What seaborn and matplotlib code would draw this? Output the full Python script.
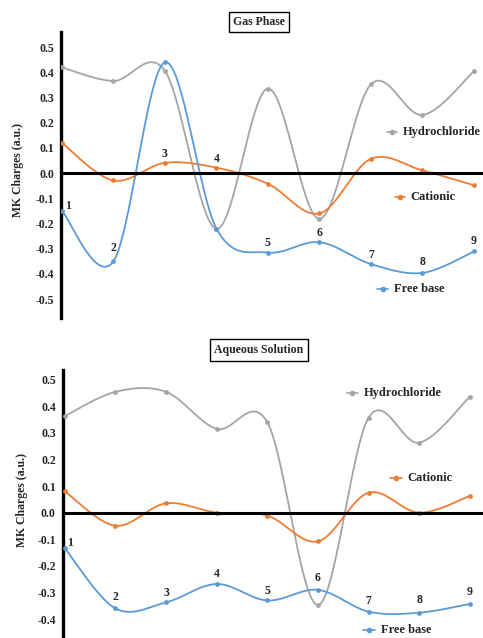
import numpy as np
import matplotlib
matplotlib.use('Agg')
import matplotlib.pyplot as plt
import seaborn as sns

# atom positions 1..9
atoms = [1, 2, 3, 4, 5, 6, 7, 8, 9]
atom_labels = ['1', '2', '3', '4', '5', '6', '7', '8', '9']

# Gas phase MK charges
gas_hydro = [0.42, 0.366, 0.406, -0.221, 0.336, -0.181, 0.353, 0.231, 0.405]
gas_cation = [0.12, -0.029, 0.041, 0.022, -0.042, -0.16, 0.057, 0.011, -0.048]
gas_free = [-0.15, -0.35, 0.44, -0.22, -0.315, -0.274, -0.361, -0.396, -0.311]
gas_label_y = [-0.131, -0.298, 0.075, 0.056, -0.278, -0.238, -0.325, -0.353, -0.270]
gas_yticks = [0.5, 0.4, 0.3, 0.2, 0.1, 0.0, -0.1, -0.2, -0.3, -0.4, -0.5]

# Aqueous solution MK charges
aq_hydro = [0.363, 0.454, 0.454, 0.315, 0.34, -0.347, 0.357, 0.263, 0.436]
aq_cation = [0.08, -0.049, 0.035, 0.0, -0.011, -0.108, 0.075, 0.0, 0.063]
aq_free = [-0.134, -0.36, -0.337, -0.268, -0.33, -0.29, -0.372, -0.376, -0.343]
aq_label_y = [-0.113, -0.318, -0.303, -0.232, -0.293, -0.247, -0.331, -0.328, -0.298]
aq_yticks = [0.5, 0.4, 0.3, 0.2, 0.1, 0.0, -0.1, -0.2, -0.3, -0.4]

GREY = '#A5A5A5'
ORANGE = '#ED7D31'
BLUE = '#5B9BD5'
FONT = 'Liberation Serif'


def smooth(xs, ys, n=40):
    # Catmull-Rom smoothing, like Excel's smoothed line
    p = np.column_stack([xs, ys]).astype(float)
    p = np.vstack([p[0], p, p[-1]])
    out = []
    t = np.linspace(0, 1, n)[:, None]
    for i in range(1, len(p) - 2):
        p0, p1, p2, p3 = p[i - 1], p[i], p[i + 1], p[i + 2]
        seg = 0.5 * ((2 * p1) + (-p0 + p2) * t + (2 * p0 - 5 * p1 + 4 * p2 - p3) * t ** 2
                     + (-p0 + 3 * p1 - 3 * p2 + p3) * t ** 3)
        out.append(seg if i == 1 else seg[1:])
    out = np.vstack(out)
    return out[:, 0], out[:, 1]


def panel(ax, series, label_y, yticks, xlim, ylim, legend_pos, label_x_shift):
    for vals, color in series:
        sx, sy = smooth(atoms, vals)
        sns.lineplot(x=sx, y=sy, ax=ax, color=color, linewidth=1.3, sort=False, estimator=None)
        sns.scatterplot(x=atoms, y=vals, ax=ax, color=color, s=12, edgecolor=color, linewidth=0, zorder=4)
    ax.axhline(0, color='black', linewidth=2.2, zorder=5)
    ax.set_xlim(*xlim)
    ax.set_ylim(*ylim)
    ax.set_xticks([])
    ax.set_yticks(yticks)
    ax.set_yticklabels([f'{v:.1f}' for v in yticks], fontfamily=FONT, fontweight='bold', fontsize=8.5)
    ax.tick_params(axis='y', length=0, pad=5)
    for s in ['top', 'right', 'bottom']:
        ax.spines[s].set_visible(False)
    ax.spines['left'].set_linewidth(2.4)
    ax.spines['left'].set_color('black')
    ax.set_ylabel('MK Charges (a.u.)', fontfamily=FONT, fontweight='bold', fontsize=8.5)
    # atom numbers
    for i, (x, y) in enumerate(zip(atoms, label_y)):
        dx = label_x_shift if i == 0 else 0
        ax.text(x + dx, y, atom_labels[i], ha='center', va='center',
                fontfamily=FONT, fontweight='bold', fontsize=8.5)
    # inline legend entries
    for (name, color), (x0, x1, ty) in zip([('Hydrochloride', GREY), ('Cationic', ORANGE), ('Free base', BLUE)],
                                           legend_pos):
        ax.plot([x0, x1], [ty, ty], color=color, linewidth=1.2, transform=ax.transAxes, clip_on=False)
        ax.plot([(x0 + x1) / 2], [ty], 'o', color=color, markersize=3, transform=ax.transAxes, clip_on=False)
        ax.text(x1 + 0.014, ty, name, transform=ax.transAxes, ha='left', va='center',
                fontfamily=FONT, fontweight='bold', fontsize=9)


sns.set_style('white')
fig = plt.figure(figsize=(4.83, 6.38), dpi=100)

ax1 = fig.add_axes([0.126, 0.5016, 0.874, 0.448])
panel(ax1, [(gas_hydro, GREY), (gas_cation, ORANGE), (gas_free, BLUE)], gas_label_y, gas_yticks,
      (0.98, 9.175), (-0.575, 0.56),
      [(0.773, 0.796, 0.650), (0.791, 0.815, 0.423), (0.749, 0.775, 0.101)], 0.12)
ax1.yaxis.set_label_coords(-0.088, 0.517)

ax2 = fig.add_axes([0.130, 0.0, 0.870, 0.42])
panel(ax2, [(aq_hydro, GREY), (aq_cation, ORANGE), (aq_free, BLUE)], aq_label_y, aq_yticks,
      (0.96, 9.26), (-0.471, 0.536),
      [(0.676, 0.702, 0.914), (0.779, 0.807, 0.597), (0.714, 0.743, 0.03)], 0.1)
ax2.yaxis.set_label_coords(-0.082, 0.515)

fig.text(0.536, 0.9655, 'Gas Phase', ha='center', va='center', fontfamily=FONT,
         fontweight='bold', fontsize=8.5,
         bbox=dict(boxstyle='square,pad=0.35', facecolor='white', edgecolor='black', linewidth=1.0))
fig.text(0.536, 0.4514, 'Aqueous Solution', ha='center', va='center', fontfamily=FONT,
         fontweight='bold', fontsize=8.5,
         bbox=dict(boxstyle='square,pad=0.4', facecolor='white', edgecolor='black', linewidth=1.0))

fig.savefig('out.png', dpi=100)
